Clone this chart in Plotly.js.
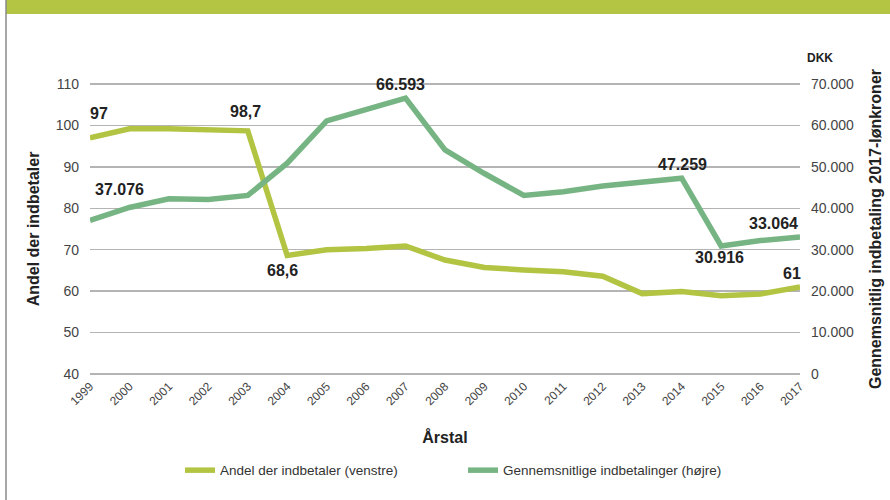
<!DOCTYPE html>
<html>
<head>
<meta charset="utf-8">
<script src="https://cdn.plot.ly/plotly-3.0.1.min.js"></script>
<style>
  html, body { margin: 0; padding: 0; background: #fff; }
  #chart { width: 890px; height: 500px; }
</style>
</head>
<body>
<div id="chart"></div>
<script>
// ---- Data ----
const years = [1999, 2000, 2001, 2002, 2003, 2004, 2005, 2006, 2007, 2008,
               2009, 2010, 2011, 2012, 2013, 2014, 2015, 2016, 2017];
const yearLabels = ["1999","2000","2001","2002","2003","2004","2005","2006","2007","2008",
                    "2009","2010","2011","2012","2013","2014","2015","2016","2017"];
// Andel der indbetaler (venstre akse, procent)
const andel = [97, 99.2, 99.2, 99.0, 98.7, 68.6, 70.0, 70.3, 70.9, 67.5,
               65.7, 65.1, 64.7, 63.6, 59.4, 59.9, 58.9, 59.3, 61];
// Gennemsnitlige indbetalinger (højre akse, DKK 2017-lønkroner)
const indbetaling = [37076, 40200, 42300, 42100, 43100, 50900, 61100, 63900, 66593, 54100,
                     48400, 43100, 44000, 45400, 46200, 47259, 30916, 32200, 33064];
// Labels shown on the chart
const andelLabelYears = [1999, 2003, 2004, 2017];
const andelLabelTexts = ["97", "98,7", "68,6", "61"];
const indLabelYears = [1999, 2007, 2014, 2015, 2017];
const indLabelTexts = ["37.076", "66.593", "47.259", "30.916", "33.064"];
const seriesNames = ["Andel der indbetaler (venstre)", "Gennemsnitlige indbetalinger (højre)"];

// ---- Styles ----
const colAndel = "#b3c443";
const colInd = "#76b583";
const txt = "#222222";
const tickCol = "#444444";
const FONT = "Liberation Sans, Arial, Helvetica, sans-serif";

const traces = [
  {
    x: years, y: andel, name: seriesNames[0], type: "scatter", mode: "lines",
    line: {color: colAndel, width: 5.5}, yaxis: "y", cliponaxis: false, hoverinfo: "skip"
  },
  {
    x: years, y: indbetaling, name: seriesNames[1], type: "scatter", mode: "lines",
    line: {color: colInd, width: 5.5}, yaxis: "y2", cliponaxis: false, hoverinfo: "skip"
  }
];

// label placement offsets (pixels)
const andelOffsets = {
  1999: {xanchor: "left", xshift: -2, yshift: 24},
  2003: {xanchor: "center", xshift: -2, yshift: 19},
  2004: {xanchor: "center", xshift: -5, yshift: -15},
  2017: {xanchor: "center", xshift: -8, yshift: 13}
};
const indOffsets = {
  1999: {xanchor: "left", xshift: 3, yshift: 31},
  2007: {xanchor: "center", xshift: -5, yshift: 14},
  2014: {xanchor: "center", xshift: 1, yshift: 14},
  2015: {xanchor: "center", xshift: -2, yshift: -12},
  2017: {xanchor: "center", xshift: -27, yshift: 14}
};

const annotations = [];
andelLabelYears.forEach((yr, i) => {
  const o = andelOffsets[yr];
  annotations.push({
    x: yr, y: andel[years.indexOf(yr)], xref: "x", yref: "y", text: andelLabelTexts[i], showarrow: false,
    xanchor: o.xanchor, yanchor: "middle", xshift: o.xshift, yshift: o.yshift,
    font: {family: FONT, size: 16, color: txt, weight: "bold"}
  });
});
indLabelYears.forEach((yr, i) => {
  const o = indOffsets[yr];
  annotations.push({
    x: yr, y: indbetaling[years.indexOf(yr)], xref: "x", yref: "y2", text: indLabelTexts[i], showarrow: false,
    xanchor: o.xanchor, yanchor: "middle", xshift: o.xshift, yshift: o.yshift,
    font: {family: FONT, size: 16, color: txt, weight: "bold"}
  });
});

// plot area: x 90..800; y-range padded 2px each side so end gridlines are drawn
const TOP = 84 - 2.07, BOT = 374 + 2.07;
const px = v => (v - 90) / 710;
const py = v => (BOT - v) / (BOT - TOP);

// DKK unit label above right axis
annotations.push({
  x: px(820), y: py(58), xref: "paper", yref: "paper", text: "DKK", showarrow: false,
  xanchor: "center", yanchor: "middle",
  font: {family: FONT, size: 12, color: txt, weight: "bold"}
});

const shapes = [
  {type: "rect", xref: "paper", yref: "paper", x0: px(6), x1: px(892), y0: py(14), y1: py(-2),
   fillcolor: "#b4c544", line: {width: 0}, layer: "below"},
  {type: "line", xref: "paper", yref: "paper", x0: px(6), x1: px(6), y0: py(0), y1: py(502),
   line: {color: "#8a8a8a", width: 1.5}, layer: "below"}
];

const layout = {
  width: 890, height: 500,
  margin: {l: 90, r: 90, t: TOP, b: 500 - BOT},
  paper_bgcolor: "#ffffff", plot_bgcolor: "#ffffff",
  separators: ",.",
  showlegend: true,
  font: {family: FONT, color: tickCol},
  xaxis: {
    type: "linear", range: [1999, 2017], tickmode: "array", tickvals: years, ticktext: yearLabels,
    showgrid: false, zeroline: false, showline: false,
    ticks: "", tickangle: -45, tickfont: {family: FONT, size: 12, color: tickCol},
    title: {text: "Årstal", font: {family: FONT, size: 16, color: txt, weight: "bold"}, standoff: 24},
    fixedrange: true
  },
  yaxis: {
    range: [39.5, 110.5], dtick: 10, tick0: 40, showgrid: true, gridcolor: "#b4b4b4", gridwidth: 1.5,
    zeroline: false, showline: false, ticks: "", ticklabelstandoff: 10,
    tickfont: {family: FONT, size: 14, color: tickCol},
    title: {text: "Andel der indbetaler", font: {family: FONT, size: 16, color: txt, weight: "bold"}, standoff: 12},
    fixedrange: true
  },
  yaxis2: {
    overlaying: "y", side: "right", range: [-500, 70500], dtick: 10000, tick0: 0,
    tickformat: ",d", showgrid: false, zeroline: false, showline: false, ticks: "",
    ticklabelstandoff: 10,
    tickfont: {family: FONT, size: 14, color: tickCol},
    title: {text: "Gennemsnitlig indbetaling 2017-lønkroner", font: {family: FONT, size: 16, color: txt, weight: "bold"}, standoff: 16},
    fixedrange: true
  },
  legend: {
    orientation: "h", x: px(180), xanchor: "left", y: py(455), yanchor: "top",
    font: {family: FONT, size: 13.5, color: "#333"},
    entrywidth: 238, entrywidthmode: "pixels", bgcolor: "rgba(0,0,0,0)"
  },
  annotations: annotations,
  shapes: shapes
};

Plotly.newPlot("chart", traces, layout, {displayModeBar: false, staticPlot: true});
</script>
</body>
</html>
